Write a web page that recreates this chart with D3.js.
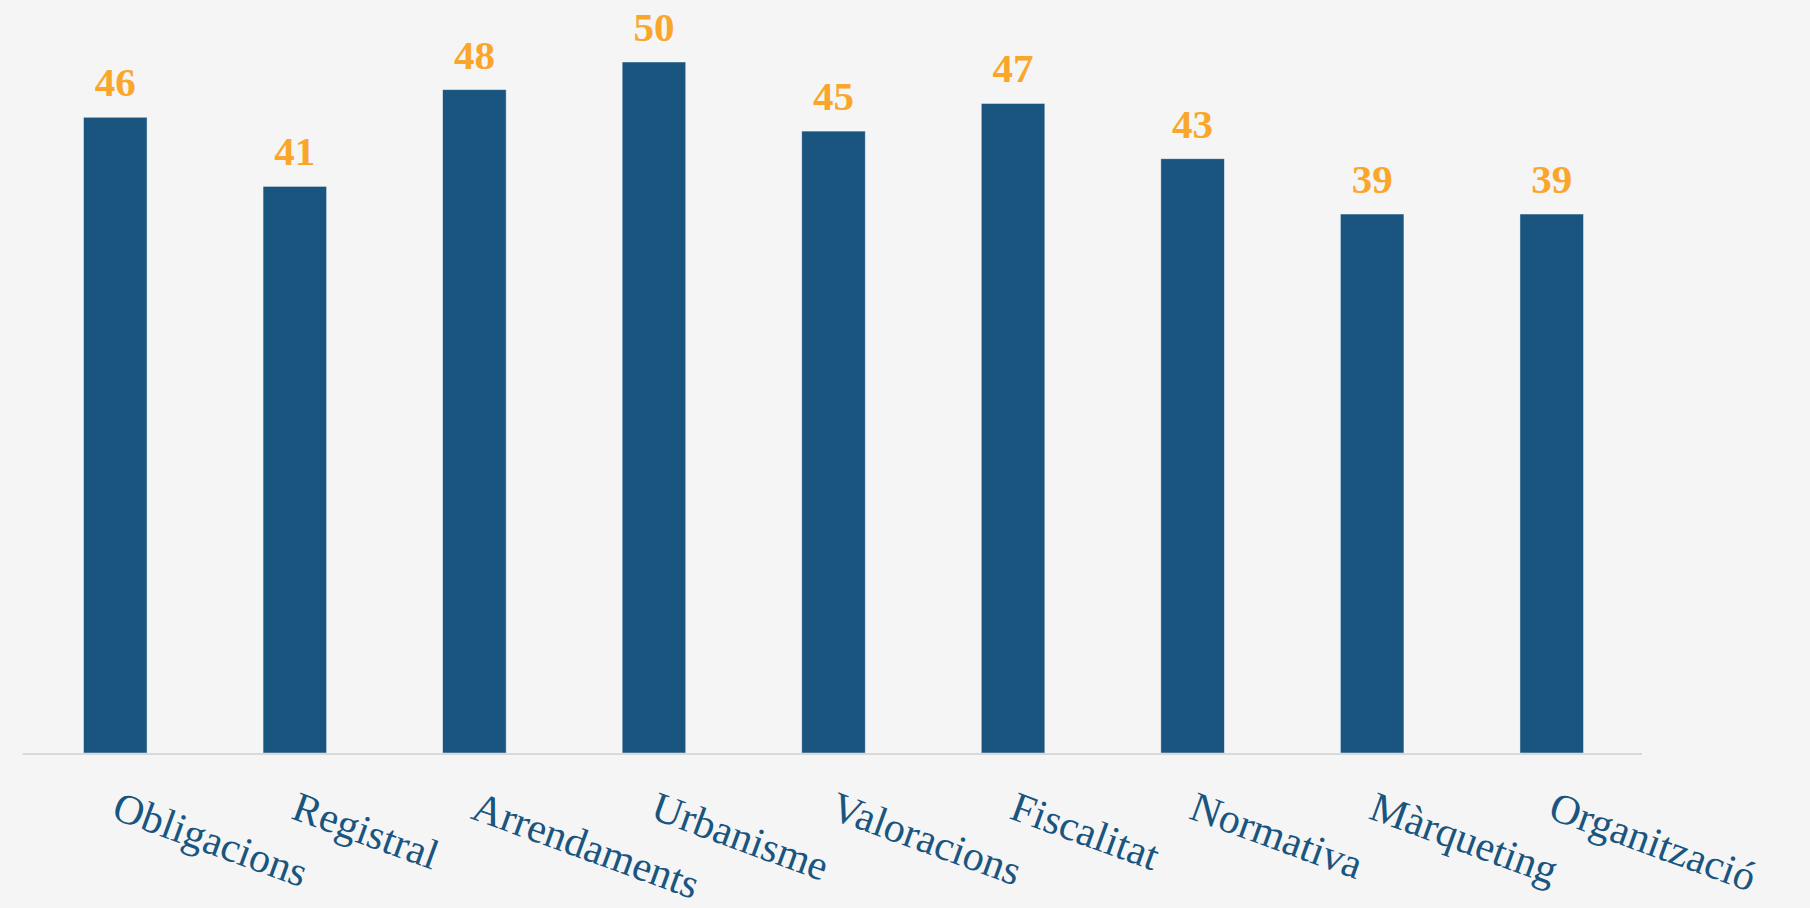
<!DOCTYPE html>
<html>
<head>
<meta charset="utf-8">
<script src="https://cdn.jsdelivr.net/npm/d3@7"></script>
<style>
  html, body { margin: 0; padding: 0; background: #f5f5f5; }
  svg { display: block; }
</style>
</head>
<body>
<svg id="chart" width="1810" height="908"></svg>
<script>
// Courses and number of enrolled students per course
const categories = ["Obligacions", "Registral", "Arrendaments", "Urbanisme", "Valoracions",
                    "Fiscalitat", "Normativa", "Màrqueting", "Organització"];
const values = [46, 41, 48, 50, 45, 47, 43, 39, 39];

const W = 1810, H = 908;
const barColor = "#1a5580";
const valueColor = "#faa62a";
const fontFamily = "'Liberation Serif', 'DejaVu Serif', serif";

const svg = d3.select("#chart");
svg.append("rect").attr("width", W).attr("height", H).attr("fill", "#f5f5f5");

const plot = { left: 25.5, right: 1641.5, top: 62, bottom: 753 };

const x = d3.scaleBand()
  .domain(categories)
  .range([plot.left, plot.right])
  .paddingInner(0.646)
  .paddingOuter(0.323);

const y = d3.scaleLinear()
  .domain([0, 50])
  .range([plot.bottom, plot.top]);

const data = categories.map((c, i) => ({ category: c, value: values[i] }));

// bars
svg.append("g")
  .selectAll("rect")
  .data(data)
  .join("rect")
  .attr("x", d => x(d.category))
  .attr("y", d => y(d.value))
  .attr("width", x.bandwidth())
  .attr("height", d => y(0) - y(d.value))
  .attr("fill", barColor)
  .attr("stroke", "#ffffff")
  .attr("stroke-opacity", 0.55)
  .attr("stroke-width", 0.8);

// baseline
svg.append("line")
  .attr("x1", plot.left - 3)
  .attr("x2", plot.right + 0.5)
  .attr("y1", y(0) + 1)
  .attr("y2", y(0) + 1)
  .attr("stroke", "#d9d9d9")
  .attr("stroke-width", 2);

// value labels above bars
svg.append("g")
  .selectAll("text")
  .data(data)
  .join("text")
  .attr("x", d => x(d.category) + x.bandwidth() / 2)
  .attr("y", d => y(d.value) - 21)
  .attr("text-anchor", "middle")
  .attr("font-family", fontFamily)
  .attr("font-weight", "bold")
  .attr("font-size", 41)
  .attr("fill", valueColor)
  .text(d => d.value);

// rotated category labels
svg.append("g")
  .selectAll("text")
  .data(data)
  .join("text")
  .attr("transform", d => `translate(${x(d.category) + x.bandwidth() / 2 - 5},818) rotate(20)`)
  .attr("text-anchor", "start")
  .attr("font-family", fontFamily)
  .attr("font-size", 42)
  .attr("fill", barColor)
  .text(d => d.category);
</script>
</body>
</html>
